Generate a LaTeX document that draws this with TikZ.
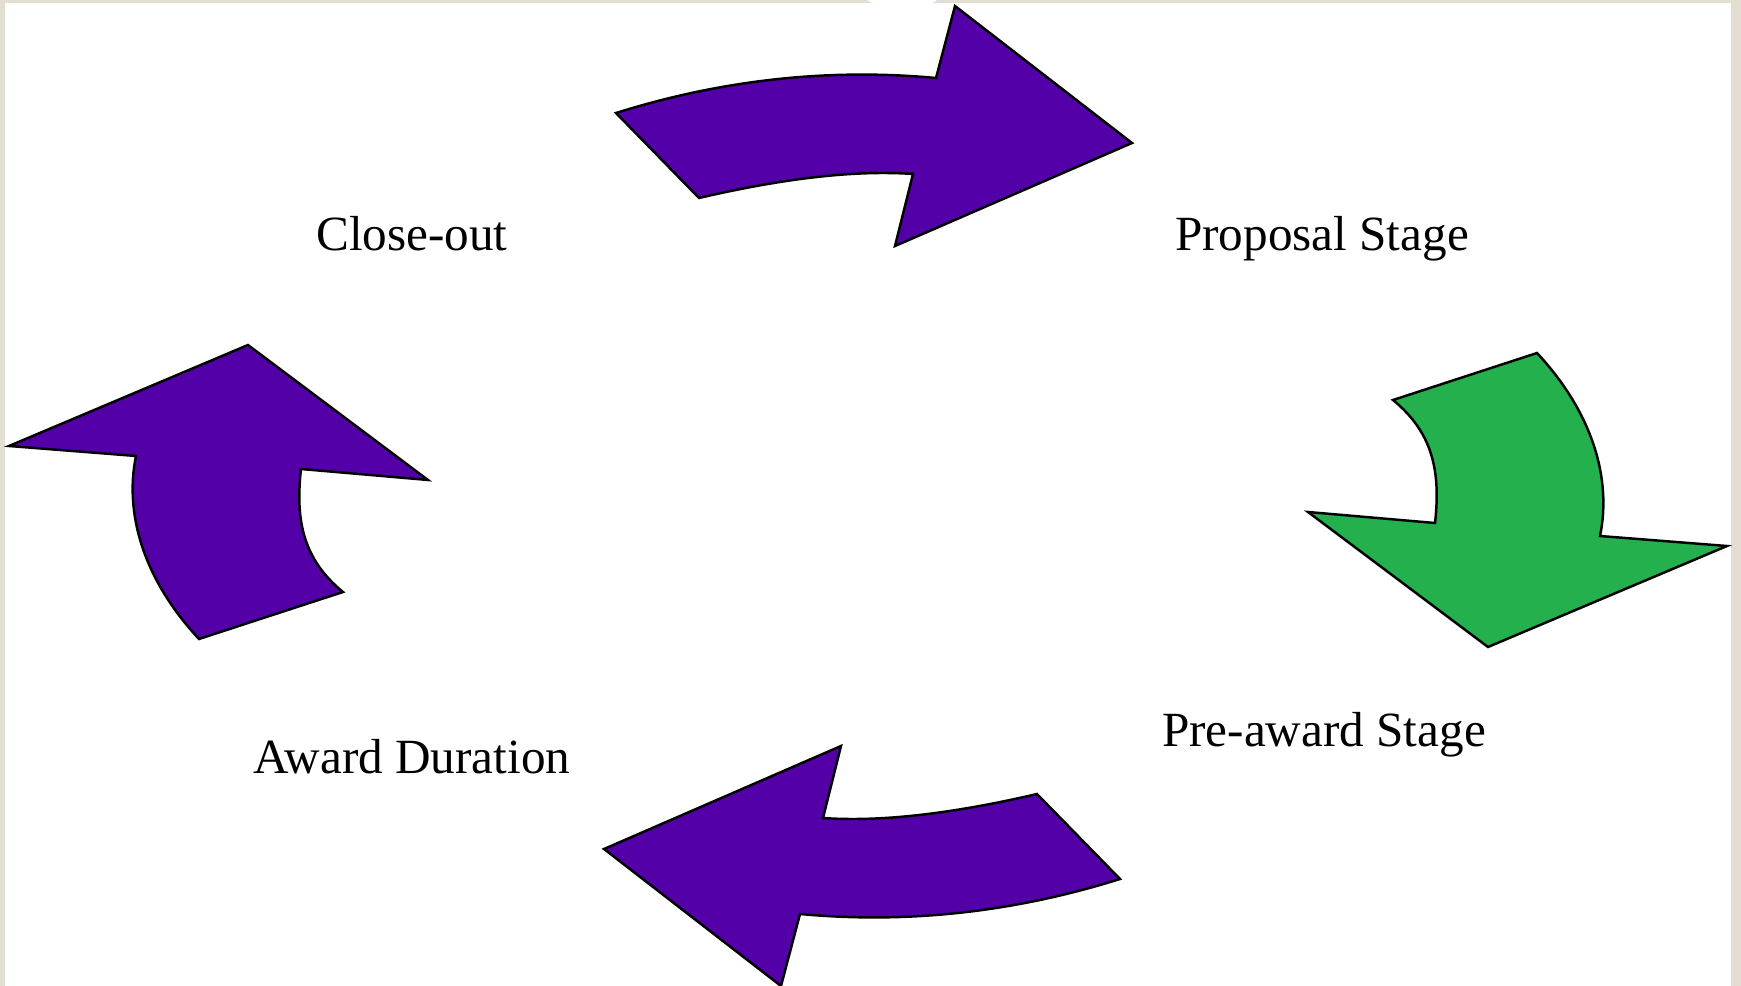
\documentclass[tikz,border=0pt]{standalone}
\usepackage{fontspec}
\setmainfont{Liberation Serif}
\definecolor{frame beige}{RGB}{227,222,211}
\definecolor{cycle purple}{RGB}{83,0,168}
\definecolor{cycle green}{RGB}{35,176,77}
\tikzset{
	stage/.style={font=\fontsize{28}{33}\selectfont, anchor=base, inner sep=0pt},
	bent arrow/.style={draw=black, line width=1.4pt, line join=miter}
}
% one bent arrow over the top, one down the right side
\newcommand{\toparrowpath}{(616,113) .. controls (721,80) and (828,68) .. (936,78)
	-- (955,6) -- (1132,143) -- (895,246) -- (913,174)
	.. controls (856,170) and (785,178) .. (699,198) -- cycle}
\newcommand{\sidearrowpath}{(1393,400) -- (1537,353)
	.. controls (1592,412) and (1612,478) .. (1600,536)
	-- (1727,546) -- (1488,647) -- (1308,512) -- (1435,523)
	.. controls (1441,470) and (1432,432) .. (1393,400) -- cycle}

\begin{document}
\begin{tikzpicture}[x=0.02cm, y=-0.02cm]
			\useasboundingbox (0,0) rectangle (1741,986);
			% page with its frame
			\begin{scope}
				\fill[frame beige] (0,0) rectangle (1741,986);
				\fill[white] (5,3) rectangle (1731,986);
				\fill[white] (867,0) -- (937,0) -- (932,3) -- (872,3) -- cycle;
			\end{scope}
			% arrows round the cycle
			\begin{scope}
				\filldraw[bent arrow, fill=cycle purple] \toparrowpath;
				\filldraw[bent arrow, fill=cycle purple, rotate around={180:(868,496)}] \toparrowpath;
				\filldraw[bent arrow, fill=cycle green] \sidearrowpath;
				\filldraw[bent arrow, fill=cycle purple, rotate around={180:(868,496)}] \sidearrowpath;
			\end{scope}
			% stage names
			\node[stage] (close) at (412,251) {Close-out};
			\node[stage] (proposal) at (1322,251) {Proposal Stage};
			\node[stage] (preaward) at (1324,746) {Pre-award Stage};
			\node[stage] (award) at (412,773) {Award Duration};
		\end{tikzpicture}
\end{document}
